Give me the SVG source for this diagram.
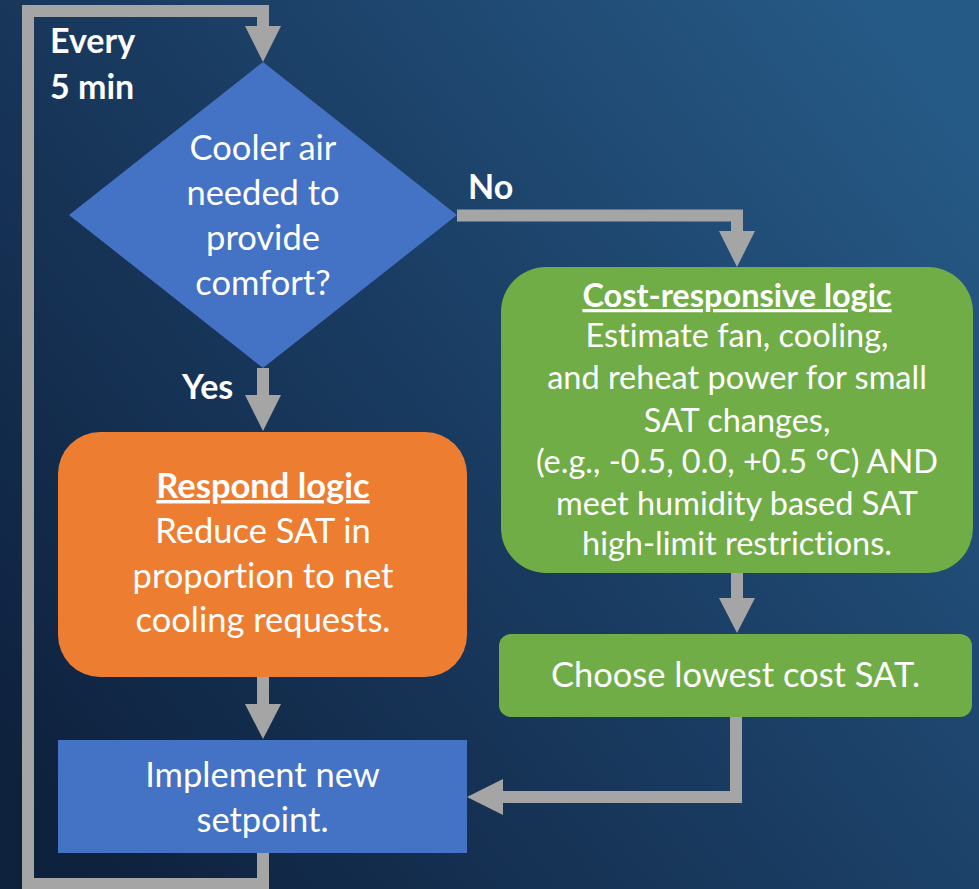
<svg xmlns="http://www.w3.org/2000/svg" width="979" height="889" viewBox="0 0 979 889">
<defs>
<linearGradient id="bg" x1="0" y1="0.85" x2="1" y2="0.15">
<stop offset="0" stop-color="#0e213d"/>
<stop offset="0.5" stop-color="#1a3c62"/>
<stop offset="1" stop-color="#265a86"/>
</linearGradient>
<style>
.t{font-family:Lato,"Liberation Sans",sans-serif;fill:#ffffff;text-anchor:middle;font-variant-ligatures:none}
.m{font-size:34.5px}
.g{font-size:32.5px}
.b{font-weight:bold}
.l{font-family:Lato,"Liberation Sans",sans-serif;fill:#ffffff;font-weight:bold;font-size:34px}
.c{fill:none;stroke:#a5a5a5;stroke-width:12}
.h{fill:#a5a5a5}
</style>
</defs>
<rect width="979" height="889" fill="url(#bg)"/>
<g id="connectors">
<path class="c" d="M263,853 V884 H28 V11 H263 V27"/>
<polygon class="h" points="245,26 281,26 263,62"/>
<path class="c" d="M457,215.5 H737 V232"/>
<polygon class="h" points="719,231 755,231 737,267"/>
<path class="c" d="M263,368 V396"/>
<polygon class="h" points="245,395 281,395 263,431"/>
<path class="c" d="M737,573 V599"/>
<polygon class="h" points="719,598 755,598 737,633"/>
<path class="c" d="M263,677 V705"/>
<polygon class="h" points="245,704 281,704 263,739"/>
<path class="c" d="M736,717 V797 H502"/>
<polygon class="h" points="503,779 503,815 467,797"/>
</g>
<g id="label-every">
<text class="l" x="50" y="53">Every</text>
<text class="l" x="50" y="99">5 min</text>
</g>
<g id="label-no"><text class="l" x="468" y="199">No</text></g>
<g id="label-yes"><text class="l" x="182" y="399">Yes</text></g>
<g id="decision">
<polygon points="263,62 457,215 263,368 69,215" fill="#4472c4"/>
<text class="t m" x="263" y="160">Cooler air</text>
<text class="t m" x="263" y="205">needed to</text>
<text class="t m" x="263" y="250">provide</text>
<text class="t m" x="263" y="295">comfort?</text>
</g>
<g id="respond">
<rect x="58" y="432" width="409" height="245" rx="42" fill="#ed7d31"/>
<text class="t m b" x="263" y="498" text-decoration="underline">Respond logic</text>
<text class="t m" x="263" y="543">Reduce SAT in</text>
<text class="t m" x="263" y="588">proportion to net</text>
<text class="t m" x="263" y="632">cooling requests.</text>
</g>
<g id="cost">
<rect x="501" y="267" width="472" height="306" rx="45" fill="#70ad47"/>
<text class="t g b" x="737" y="307" text-decoration="underline">Cost-responsive logic</text>
<text class="t g" x="737" y="347">Estimate fan, cooling,</text>
<text class="t g" x="737" y="389">and reheat power for small</text>
<text class="t g" x="737" y="432">SAT changes,</text>
<text class="t g" x="737" y="473">(e.g., -0.5, 0.0, +0.5 °C) AND</text>
<text class="t g" x="737" y="515">meet humidity based SAT</text>
<text class="t g" x="737" y="555">high-limit restrictions.</text>
</g>
<g id="choose">
<rect x="499" y="634" width="473" height="83" rx="12" fill="#70ad47"/>
<text class="t m" x="735.5" y="687">Choose lowest cost SAT.</text>
</g>
<g id="implement">
<rect x="58" y="740" width="409" height="113" fill="#4472c4"/>
<text class="t m" x="262.5" y="787">Implement new</text>
<text class="t m" x="262.5" y="832">setpoint.</text>
</g>
</svg>
